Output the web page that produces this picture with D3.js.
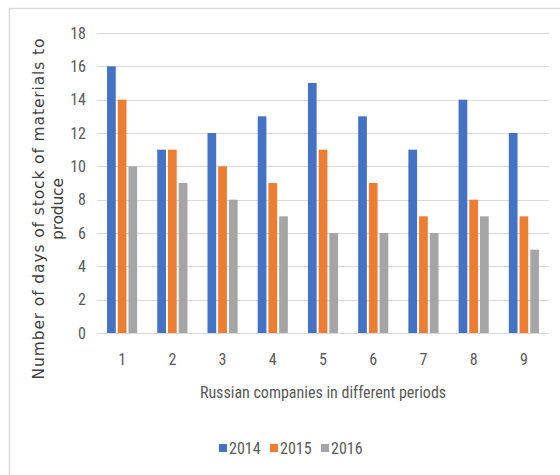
<!DOCTYPE html>
<html>
<head>
<meta charset="utf-8">
<script src="https://cdn.jsdelivr.net/npm/d3@7"></script>
<style>
  html, body { margin: 0; padding: 0; background: #fff; }
  svg { display: block; }
</style>
</head>
<body>
<svg id="chart" width="560" height="475"></svg>
<script>
// Companies (categories) and the three yearly series
const companies = ["1", "2", "3", "4", "5", "6", "7", "8", "9"];
const years = ["2014", "2015", "2016"];
const values2014 = [16, 11, 12, 13, 15, 13, 11, 14, 12];
const values2015 = [14, 11, 10, 9, 11, 9, 7, 8, 7];
const values2016 = [10, 9, 8, 7, 6, 6, 6, 7, 5];
const yTicks = [0, 2, 4, 6, 8, 10, 12, 14, 16, 18];

const seriesValues = [values2014, values2015, values2016];
const colors = ["#4472C4", "#ED7D31", "#A5A5A5"];
const tickFont = "'Liberation Sans Narrow', 'Roboto Condensed', 'Liberation Sans', sans-serif";
const textColor = "#595959";

const svg = d3.select("#chart");

// Outer chart frame (top and left edges visible)
svg.append("path")
  .attr("d", "M9.5,475 L9.5,8.5 L560,8.5")
  .attr("fill", "none")
  .attr("stroke", "#d9d9d9")
  .attr("stroke-width", 1.5);

const plot = { left: 97, right: 549, top: 33, bottom: 333 };

const x0 = d3.scaleBand()
  .domain(companies)
  .range([plot.left, plot.right])
  .paddingInner(0.36)
  .paddingOuter(0.18);

const x1 = d3.scaleBand()
  .domain(years)
  .range([0, x0.bandwidth()]);

const y = d3.scaleLinear()
  .domain([0, 18])
  .range([plot.bottom, plot.top]);

// Horizontal gridlines
svg.append("g")
  .selectAll("line")
  .data(yTicks)
  .join("line")
  .attr("x1", plot.left)
  .attr("x2", plot.right)
  .attr("y1", d => Math.round(y(d)) + 0.5)
  .attr("y2", d => Math.round(y(d)) + 0.5)
  .attr("stroke", "#d9d9d9")
  .attr("stroke-width", 1.2);

// Y axis tick labels
const yAxis = d3.axisLeft(y).tickValues(yTicks).tickSize(0).tickPadding(0);
const gy = svg.append("g")
  .attr("transform", `translate(${plot.left - 11},0)`)
  .call(yAxis);
gy.select(".domain").remove();
gy.selectAll("text")
  .attr("font-family", tickFont)
  .attr("font-size", 16)
  .attr("fill", textColor);

// X axis tick labels
const xAxis = d3.axisBottom(x0).tickSize(0).tickPadding(0);
const gx = svg.append("g")
  .attr("transform", `translate(0,${plot.bottom + 21})`)
  .call(xAxis);
gx.select(".domain").remove();
gx.selectAll("text")
  .attr("font-family", tickFont)
  .attr("font-size", 16)
  .attr("fill", textColor);

// Grouped bars
const groups = svg.append("g")
  .selectAll("g")
  .data(companies)
  .join("g")
  .attr("transform", d => `translate(${x0(d)},0)`);

groups.selectAll("rect")
  .data((d, i) => years.map((yr, k) => ({ year: yr, value: seriesValues[k][i], k })))
  .join("rect")
  .attr("x", d => x1(d.year) + 1)
  .attr("width", x1.bandwidth() - 2)
  .attr("y", d => y(d.value))
  .attr("height", d => y(0) - y(d.value))
  .attr("fill", d => colors[d.k]);

// Axis titles
svg.append("text")
  .attr("x", 323)
  .attr("y", 398)
  .attr("text-anchor", "middle")
  .attr("font-family", tickFont)
  .attr("font-size", 16)
  .attr("fill", textColor)
  .text("Russian companies in different periods");

const yTitle = svg.append("text")
  .attr("transform", "rotate(-90)")
  .attr("text-anchor", "middle")
  .attr("font-family", "'DejaVu Sans', Verdana, sans-serif")
  .attr("font-size", 15.5)
  .attr("fill", "#404040");
yTitle.append("tspan")
  .attr("x", -209)
  .attr("y", 44)
  .attr("textLength", 341)
  .attr("lengthAdjust", "spacing")
  .text("Number of days of stock of materials to");
yTitle.append("tspan")
  .attr("x", -209)
  .attr("y", 63)
  .attr("textLength", 62)
  .attr("lengthAdjust", "spacing")
  .text("produce");

// Legend
const legend = svg.append("g")
  .attr("transform", "translate(219,448)");
const legendItem = legend.selectAll("g")
  .data(years)
  .join("g")
  .attr("transform", (d, i) => `translate(${i * 51},0)`);
legendItem.append("rect")
  .attr("x", 0)
  .attr("y", -4)
  .attr("width", 8)
  .attr("height", 8)
  .attr("fill", (d, i) => colors[i]);
legendItem.append("text")
  .attr("x", 10)
  .attr("y", 0)
  .attr("dy", "0.35em")
  .attr("font-family", tickFont)
  .attr("font-size", 16)
  .attr("fill", textColor)
  .text(d => d);
</script>
</body>
</html>
